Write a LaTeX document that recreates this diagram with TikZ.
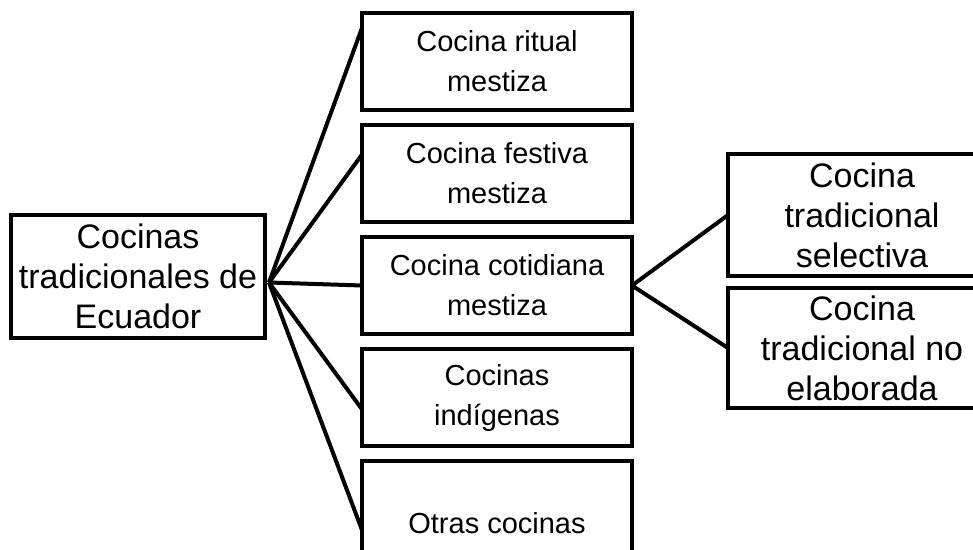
\documentclass[tikz,border=0pt]{standalone}
\usepackage{fontspec}
\setmainfont{Liberation Sans}
\usetikzlibrary{positioning}
\def\bigLabel{\fontsize{34}{40}\selectfont}
\def\smallLabel{\fontsize{29}{40}\selectfont}

\begin{document}
\begin{tikzpicture}[x=1pt, y=-1pt,
		cuisineBox/.style={draw, line width=4.5pt, inner sep=0pt, outer sep=0pt, align=center, minimum width=270pt, minimum height=97pt, font=\smallLabel},
		mainBox/.style={cuisineBox, minimum width=254pt, minimum height=123pt, font=\bigLabel},
		subBox/.style={cuisineBox, minimum width=268pt, minimum height=122pt, font=\bigLabel},
		branch/.style={line width=4pt}]
	\useasboundingbox (0,0) rectangle (973,549);
	\clip (0,0) rectangle (973,549);
	\node[mainBox] (root) at (138,276.5) {Cocinas\\tradicionales de\\Ecuador};
	\node[cuisineBox] (ritual) at (497,61.5) {Cocina ritual\\mestiza};
	\node[cuisineBox] (festiva) [below=15pt of ritual] {Cocina festiva\\mestiza};
	\node[cuisineBox] (cotidiana) [below=15pt of festiva] {Cocina cotidiana\\mestiza};
	\node[cuisineBox] (indigenas) [below=15pt of cotidiana] {Cocinas\\indígenas};
	\node[cuisineBox, minimum height=124pt] (otras) [below=15pt of indigenas] {Otras cocinas};
	\node[subBox] (selectiva) at (862,215) {Cocina\\tradicional\\selectiva};
	\node[subBox, minimum height=120pt] (noElaborada) [below=12pt of selectiva] {Cocina\\tradicional no\\elaborada};
	\coordinate (hub) at ([xshift=4pt, yshift=-6pt]root.east);
	\draw[branch] (hub) -- (ritual.166);
	\draw[branch] (hub) -- (festiva.172);
	\draw[branch] (hub) -- (cotidiana.180);
	\draw[branch] (hub) -- (indigenas.185);
	\draw[branch] (hub) -- (otras.183);
	\draw[branch] (cotidiana.east) -- (selectiva.west);
	\draw[branch] (cotidiana.east) -- (noElaborada.west);
\end{tikzpicture}
\end{document}
